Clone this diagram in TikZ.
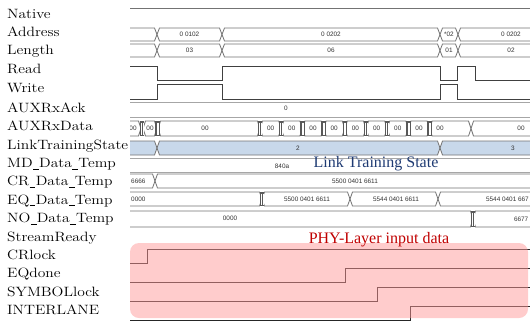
\documentclass[tikz,border=0pt]{standalone}
\usepackage{fontspec}
\newfontfamily\timesf{Liberation Serif}
\newfontfamily\arialf{Liberation Sans}
\definecolor{ltsblue}{HTML}{C8D8EA}
\definecolor{navytxt}{HTML}{1F3B73}
\definecolor{redtxt}{HTML}{C00000}
\definecolor{pinkov}{HTML}{FF9999}
\newcommand\us{\kern0.3pt\rule[-1.6pt]{5pt}{0.5pt}\kern0.3pt}
\tikzset{
 lab/.style={anchor=base west, inner sep=0pt, font=\fontsize{13.5}{15}\selectfont},
 val/.style={inner sep=0pt, font=\arialf\fontsize{6.4}{7}\selectfont, text=black!80},
 busline/.style={draw=black!55, line width=0.8pt},
 sig/.style={draw=black!75, line width=0.8pt},
}
\newcommand\busseg[5]{\draw[busline,fill=#5] ({#1+2.5},#3) -- ({#2-2.5},#3) -- (#2,{(#3+#4)/2}) -- ({#2-2.5},#4) -- ({#1+2.5},#4) -- (#1,{(#3+#4)/2}) -- cycle;}
\newcommand\clus[3]{\fill[black!65] ({#1-2.2},#2) rectangle ({#1+2.2},#3);
 \draw[white, line width=0.3pt] ({#1-0.7},{#2+1.5}) -- ({#1-0.7},{#3-1.5}) ({#1+0.8},{#2+1.5}) -- ({#1+0.8},{#3-1.5});}
\begin{document}
\begin{tikzpicture}[x=1pt,y=-1pt]
\useasboundingbox (0,0) rectangle (530,322);
\begin{scope}
\clip (130,0) rectangle (530,322);
% Native
\draw[busline] (127,8) -- (533,8);
% Address
\busseg{127}{157}{28}{41}{white}
\busseg{157}{222}{28}{41}{white}
\busseg{222}{440}{28}{41}{white}
\busseg{440}{458}{28}{41}{white}
\busseg{458}{535}{28}{41}{white}
\node[val] (a1) at (189.5,34.5) {0 0102};
\node[val] (a2) at (331,34.5) {0 0202};
\node[val] (a3) at (449,34.5) {*02};
\node[val] (a4) at (511,34.5) {0 0202};
% Length
\busseg{127}{157}{44}{57}{white}
\busseg{157}{222}{44}{57}{white}
\busseg{222}{440}{44}{57}{white}
\busseg{440}{458}{44}{57}{white}
\busseg{458}{535}{44}{57}{white}
\node[val] (b1) at (189.5,50.5) {03};
\node[val] (b2) at (331,50.5) {06};
\node[val] (b3) at (449,50.5) {01};
\node[val] (b4) at (511,50.5) {02};
% Read / Write
\draw[sig] (127,66) -- (157,66) -- (157,80) -- (222,80) -- (222,66) -- (440,66) -- (440,80) -- (457,80) -- (457,66) -- (475,66) -- (475,80) -- (533,80);
\draw[sig] (127,99) -- (157,99) -- (157,84) -- (222,84) -- (222,99) -- (440,99) -- (440,84) -- (457,84) -- (457,99) -- (533,99);
% AUXRxAck
\draw[black!35, line width=0.6pt] (127,102) -- (533,102) (127,117) -- (533,117);
\node[val] (c1) at (286,108) {0};
% AUXRxData
\busseg{120}{141}{121}{136}{white}
\busseg{143}{157}{121}{136}{white}
\busseg{158}{260}{121}{136}{white}
\foreach \i in {0,...,7}{
 \pgfmathsetmacro\xa{260+21.2*\i}
 \pgfmathsetmacro\xb{\xa+21.2}
 \busseg{\xa}{\xb}{121}{136}{white}
 \node[val] (d\i) at ({(\xa+\xb)/2},128.5) {00};
}
\busseg{429.6}{471}{121}{136}{white}
\busseg{471}{535}{121}{136}{white}
\node[val] (dA) at (133,128.5) {00};
\node[val] (dB) at (150,128.5) {00};
\node[val] (dC) at (205,128.5) {00};
\node[val] (dD) at (440,128.5) {00};
\node[val] (dE) at (521,128.5) {00};
\clus{142}{121}{136}
\clus{157.5}{121}{136}
\foreach \i in {0,...,8}{ \clus{260+21.2*\i}{121}{136} }
% LinkTrainingState
\busseg{127}{157}{141}{155}{ltsblue}
\busseg{157}{440}{141}{155}{ltsblue}
\busseg{440}{535}{141}{155}{ltsblue}
\node[val] (e1) at (298,148) {2};
\node[val] (e2) at (513,148) {3};
% MD_Data_Temp
\draw[black!35, line width=0.6pt] (127,158) -- (533,158) (127,172) -- (533,172);
\node[val] (f1) at (282,166) {840a};
% CR_Data_Temp
\busseg{120}{155}{174}{188}{white}
\busseg{155}{535}{174}{188}{white}
\node[val,anchor=west] (g1) at (131,181) {6666};
\node[val] (g2) at (355,181) {5500 0401 6611};
% EQ_Data_Temp
\busseg{120}{262}{192}{206}{white}
\busseg{262}{350}{192}{206}{white}
\busseg{350}{438}{192}{206}{white}
\busseg{438}{535}{192}{206}{white}
\clus{262}{192}{206}
\node[val,anchor=west] (h1) at (131,199) {0000};
\node[val] (h2) at (307,199) {5500 0401 6611};
\node[val] (h3) at (396,199) {5544 0401 6611};
\node[val,anchor=east] (h4) at (529,199) {5544 0401 667};
% NO_Data_Temp
\busseg{120}{473}{211}{227}{white}
\busseg{473}{535}{211}{227}{white}
\clus{473}{211}{227}
\node[val] (i1) at (230,218) {0000};
\node[val,anchor=east] (i2) at (528.5,219) {6677};
% bottom signals
\draw[sig,black!85] (127,263) -- (147,263) -- (147,249) -- (533,249);
\draw[sig,black!85] (127,282) -- (345,282) -- (345,268) -- (533,268);
\draw[sig,black!85] (127,301) -- (377,301) -- (377,287) -- (533,287);
\draw[sig,black!85] (127,320) -- (410,320) -- (410,306) -- (533,306);
\fill[pinkov, opacity=0.5, rounded corners=9pt] (130,243) rectangle (528,318);
\end{scope}
\node[font=\timesf\fontsize{16}{18}\selectfont, text=navytxt, inner sep=0pt] (lts) at (376,164) {Link Training State};
\node[font=\timesf\fontsize{16}{18}\selectfont, text=redtxt, inner sep=0pt] (phy) at (379,240) {PHY-Layer input data};
% labels
\foreach \t/\y [count=\k] in {Native/14, Address/32, Length/50, Read/69, Write/88, AUXRxAck/107.5, AUXRxData/126, LinkTrainingState/145, MD\us Data\us Temp/163, CR\us Data\us Temp/181, EQ\us Data\us Temp/199.5, NO\us Data\us Temp/218, StreamReady/237, CRlock/255, EQdone/273, SYMBOLlock/291.5, INTERLANE/310}{
 \node[lab] (lab\k) at (7,\y+4.5) {\scalebox{1.15}[1]{\t}};
}
\end{tikzpicture}
\end{document}
